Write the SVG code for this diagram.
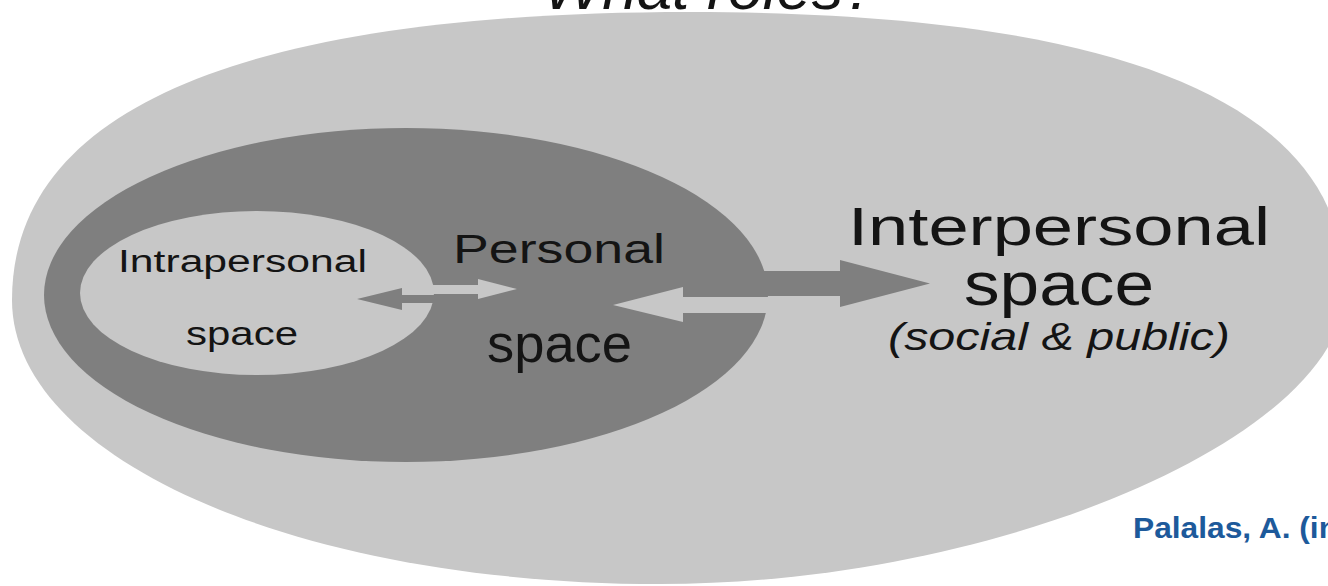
<svg xmlns="http://www.w3.org/2000/svg" width="1328" height="586" viewBox="0 0 1328 586">
  <style>
    .light { fill: #c7c7c7; }
    .dark { fill: #7f7f7f; }
    .lbl { font-family: "Liberation Sans", Arial, sans-serif; fill: #141414; }
    .it { font-style: italic; }
    .cite { font-family: "Liberation Sans", Arial, sans-serif; font-weight: bold; fill: #1d5a9b; }
  </style>
  <rect width="1328" height="586" fill="#ffffff"/>

  <text x="543" y="9" class="lbl it" font-size="62" textLength="335" lengthAdjust="spacingAndGlyphs">What roles?</text>

  <g id="interpersonal">
    <path class="light" d="M 12,300 C 12,90 290,12 690,12 C 1090,12 1345,90 1345,290 C 1345,435 1000,584 660,584 C 300,584 12,460 12,300 Z"/>
  </g>

  <g id="personal">
    <ellipse class="dark" cx="406" cy="295" rx="362" ry="167"/>
  </g>

  <g id="intrapersonal">
    <ellipse class="light" cx="257" cy="293" rx="177" ry="82"/>
  </g>

  <g id="connectors">
    <polygon class="light" points="410,285 478,285 478,279 517,289 478,299 478,294 410,294"/>
    <polygon class="dark" points="357,299 402,288 402,295 470,295 470,303 402,303 402,310"/>
    <polygon class="light" points="613,305 683,287 683,297 830,297 830,313 683,313 683,322"/>
    <polygon class="dark" points="700,271 840,271 840,260 930,283.5 840,307 840,296 700,296"/>
  </g>

  <g id="labels">
    <text x="118" y="272" class="lbl" font-size="31" textLength="249" lengthAdjust="spacingAndGlyphs">Intrapersonal</text>
    <text x="186" y="345" class="lbl" font-size="33" textLength="112" lengthAdjust="spacingAndGlyphs">space</text>
    <text x="453" y="263" class="lbl" font-size="41" textLength="212" lengthAdjust="spacingAndGlyphs">Personal</text>
    <text x="487" y="362" class="lbl" font-size="53" textLength="145" lengthAdjust="spacingAndGlyphs">space</text>
    <text x="848" y="245" class="lbl" font-size="53" textLength="422" lengthAdjust="spacingAndGlyphs">Interpersonal</text>
    <text x="964" y="305" class="lbl" font-size="62" textLength="190" lengthAdjust="spacingAndGlyphs">space</text>
    <text x="888" y="350" class="lbl it" font-size="38" textLength="342" lengthAdjust="spacingAndGlyphs">(social &amp; public)</text>
  </g>

  <text x="1133" y="538" class="cite" font-size="29" textLength="205" lengthAdjust="spacingAndGlyphs">Palalas, A. (in</text>
</svg>
